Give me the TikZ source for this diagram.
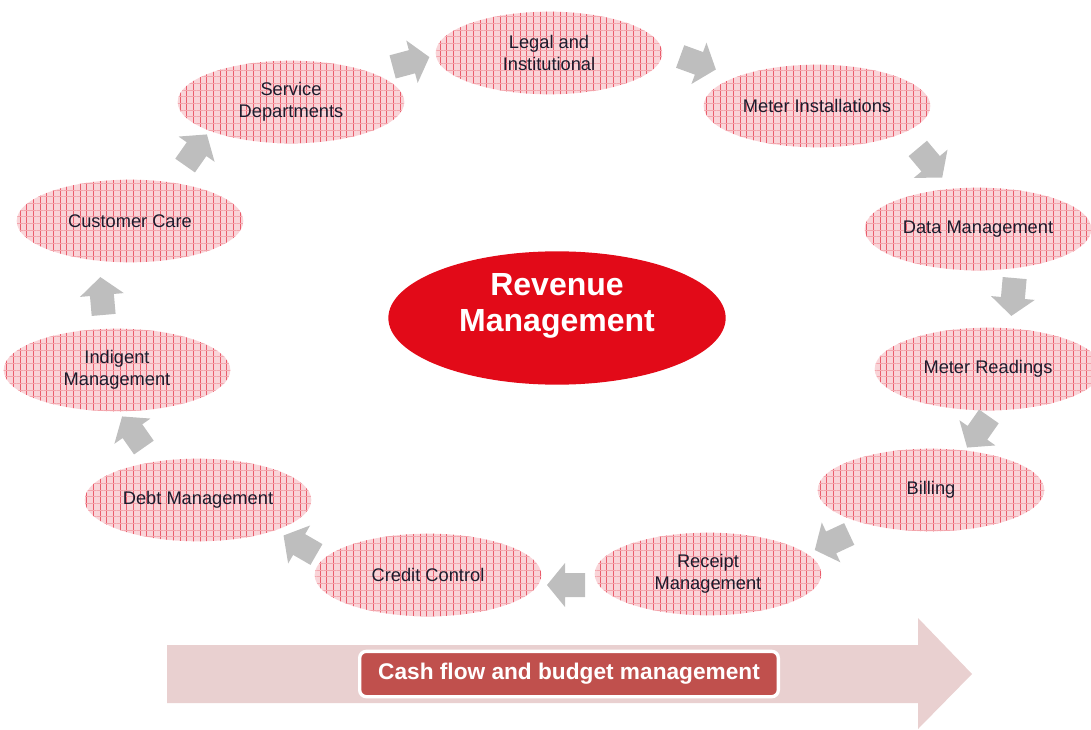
\documentclass[tikz,border=0pt]{standalone}
\usepackage{fontspec}
\setmainfont{Liberation Sans}
\usetikzlibrary{shapes.geometric,patterns.meta}
\definecolor{ellbase}{RGB}{249,212,216}
\definecolor{gridv}{RGB}{234,92,108}
\definecolor{gridh}{RGB}{243,165,172}
\definecolor{revred}{RGB}{226,10,24}
\definecolor{arrgray}{RGB}{190,190,190}
\definecolor{bandpink}{RGB}{233,208,208}
\definecolor{boxred}{RGB}{192,80,77}
\definecolor{txt}{RGB}{28,28,45}
\tikzset{
  ell/.style={ellipse, fill=ellbase, minimum width=170pt, minimum height=62pt, inner sep=0pt,
    postaction={pattern={Lines[distance=5pt,line width=0.6pt,angle=90]}, pattern color=gridv},
    postaction={pattern={Lines[distance=5pt,line width=0.45pt,angle=0]}, pattern color=gridh},
    text=txt, align=center, font=\fontsize{13.7pt}{16.5pt}\selectfont},
  pics/blockarrow/.style={code={
    \fill[arrgray] (-19,-12) -- (1,-12) -- (1,-22) -- (19,0) -- (1,22) -- (1,12) -- (-19,12) -- cycle;}}
}
\begin{document}
\begin{tikzpicture}[x=0.75pt,y=-0.75pt]
\useasboundingbox (0,0) rectangle (1091,730);
% cycle ellipses
\node[ell] (legal) at (549,53) {Legal and\\Institutional};
\node[ell] (meter) at (817,106) {Meter Installations};
\node[ell] (data) at (978,229) {Data Management};
\node[ell] (read) at (988,369) {Meter Readings};
\node[ell] (bill) at (931,490) {Billing};
\node[ell] (receipt) at (708,574) {Receipt\\Management};
\node[ell] (credit) at (428,575) {Credit Control};
\node[ell] (debt) at (198,500) {Debt Management};
\node[ell] (indig) at (117,370) {Indigent\\Management};
\node[ell] (care) at (130,221) {Customer Care};
\node[ell] (serv) at (291,102) {Service\\Departments};
% centre
\node[ellipse, fill=revred, minimum width=253pt, minimum height=100pt] (rev) at (557,318) {};
\node[text=white, align=center, font=\bfseries\fontsize{24pt}{27pt}\selectfont] (revtxt) at (557,306) {Revenue\\Management};
% block arrows
\pic[rotate=15] at (411,62) {blockarrow};
\pic[rotate=-20] at (698,63) {blockarrow};
\pic[rotate=-50] at (930,163) {blockarrow};
\pic[rotate=-95] at (1013,297) {blockarrow};
\pic[rotate=-125] at (978,432) {blockarrow};
\pic[rotate=-155] at (832,542) {blockarrow};
\pic[rotate=180] at (566,585) {blockarrow};
\pic[rotate=150] at (300,545) {blockarrow};
\pic[rotate=125] at (133,432) {blockarrow};
\pic[rotate=95] at (102,296) {blockarrow};
\pic[rotate=55] at (196,150) {blockarrow};
% bottom band arrow
\fill[bandpink] (167,645) -- (918,645) -- (918,618) -- (972,674) -- (918,729) -- (918,703) -- (167,703) -- cycle;
\node[fill=boxred, draw=white, line width=2.5pt, rounded corners=5pt, minimum width=314pt, minimum height=34pt,
  text=white, font=\bfseries\fontsize{17pt}{20pt}\selectfont] (cash) at (569,674) {Cash flow and budget management};
\end{tikzpicture}
\end{document}
